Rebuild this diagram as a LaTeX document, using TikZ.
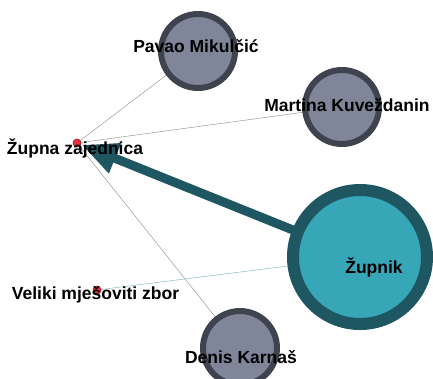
\documentclass[tikz,border=0pt]{standalone}
\usepackage{fontspec}
\setmainfont{Liberation Sans}
\usetikzlibrary{arrows.meta}
\definecolor{grayfill}{HTML}{7F8699}
\definecolor{grayline}{HTML}{3E434F}
\definecolor{tealfill}{HTML}{37A6B7}
\definecolor{tealline}{HTML}{1E5661}
\definecolor{reddot}{HTML}{E8323C}
\definecolor{edgegray}{HTML}{9A9A9A}
\definecolor{edgeteal}{HTML}{9CC2CA}
\begin{document}
\begin{tikzpicture}[x=1pt,y=-1pt,
  person/.style={circle,draw=grayline,fill=grayfill,line width=6pt,minimum size=74pt,inner sep=0pt},
  boss/.style={circle,draw=tealline,fill=tealfill,line width=12pt,minimum size=134pt,inner sep=0pt},
  group/.style={circle,draw=reddot!60!black,fill=reddot,line width=0.4pt,minimum size=8pt,inner sep=0pt},
  lbl/.style={font=\bfseries\fontsize{17.5}{19}\selectfont,text=black,inner sep=0pt},
  thin/.style={draw=edgegray,line width=0.5pt}]
\useasboundingbox (0,0) rectangle (433,378);
\fill[white] (0,0) rectangle (433,378);
% nodes
\node[group] (zz) at (77,143) {};
\node[group] (vz) at (97,290) {};
\coordinate (pmc) at (198,51);
\coordinate (mkc) at (342,107);
\coordinate (dkc) at (240,348);
\coordinate (zc) at (360,257);
% thin edges
\draw[thin] (zz) -- (pmc);
\draw[thin] (zz) -- (mkc);
\draw[thin] (zz) -- (dkc);
\draw[draw=edgeteal,line width=0.6pt] (vz) -- (zc);
% circles
\node[person] (pm) at (pmc) {};
\node[person] (mk) at (mkc) {};
\node[person] (dk) at (dkc) {};
% thick arrow
\draw[tealline,line width=9pt,-{Triangle[length=36pt,width=30pt]},shorten >=5pt] (zc) -- (zz.center);
\node[boss] (zp) at (zc) {};
\node[group] at (zz.center) {};
\node[group] at (vz.center) {};
% labels
\node[lbl] (lpm) at (196,46) {Pavao Mikulčić};
\node[lbl] (lmk) at (347,105) {Martina Kuveždanin};
\node[lbl] (lzz) at (75,148) {Župna zajednica};
\node[lbl] (lvz) at (95.5,295) {Veliki mješoviti zbor};
\node[lbl] (lzp) at (374,267) {Župnik};
\node[lbl] (ldk) at (241,357) {Denis Karnaš};
\end{tikzpicture}
\end{document}
